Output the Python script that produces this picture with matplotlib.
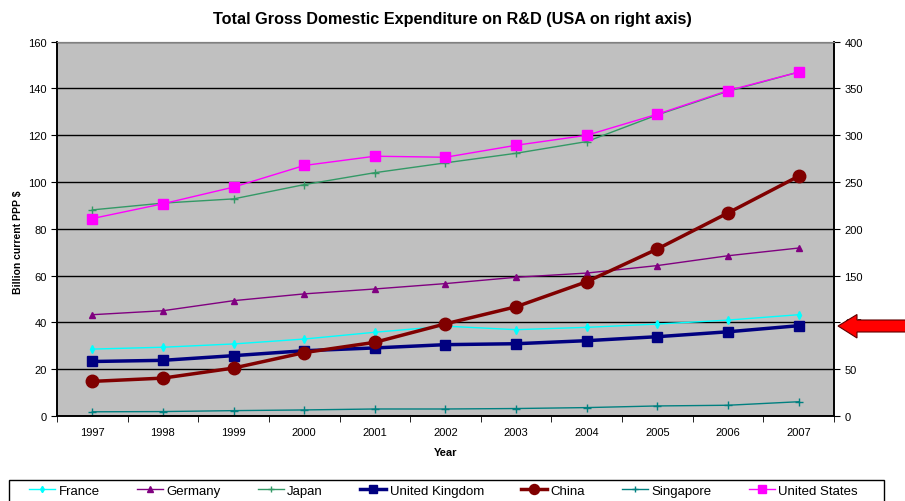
import matplotlib
matplotlib.use("Agg")
import matplotlib.pyplot as plt
from matplotlib.patches import Polygon, Rectangle

plt.rcParams["font.family"] = ["Liberation Sans", "DejaVu Sans"]

years = ["1997", "1998", "1999", "2000", "2001", "2002", "2003", "2004", "2005", "2006", "2007"]

# billion current PPP $ (left axis)
france = [28.6, 29.4, 30.8, 32.9, 35.8, 38.4, 36.9, 37.9, 39.3, 41.0, 43.3]
germany = [43.3, 45.0, 49.3, 52.2, 54.3, 56.6, 59.3, 61.1, 64.3, 68.5, 71.8]
japan = [88.1, 91.0, 92.8, 98.9, 104.0, 108.2, 112.3, 117.3, 128.7, 138.8, 147.0]
uk = [23.3, 23.8, 25.8, 27.9, 29.1, 30.5, 30.9, 32.2, 33.9, 36.0, 38.6]
china = [14.8, 16.2, 20.5, 27.1, 31.5, 39.4, 46.7, 57.4, 71.4, 86.8, 102.5]
singapore = [1.8, 1.9, 2.3, 2.6, 3.0, 3.0, 3.2, 3.6, 4.3, 4.6, 6.1]
# right axis
usa = [211.0, 226.8, 244.6, 267.7, 277.6, 276.5, 289.3, 300.0, 322.5, 347.7, 367.5]

x = list(range(len(years)))

fig = plt.figure(figsize=(9.05, 5.02), dpi=100)
ax = fig.add_axes([0.063, 0.1693, 0.8585, 0.7457])
ax.set_facecolor("#C0C0C0")
ax2 = ax.twinx()

ax.set_ylim(0, 160)
ax.set_yticks(range(0, 161, 20))
ax2.set_ylim(0, 400)
ax2.set_yticks(range(0, 401, 50))
ax.set_xlim(-0.5, len(years) - 0.5)
ax.yaxis.grid(True, color="black", linewidth=1.0)
ax.set_axisbelow(True)

ax.set_xticks(x)
ax.set_xticklabels(years)
ax.set_xticks([i - 0.5 for i in range(len(years) + 1)], minor=True)
ax.tick_params(axis="x", which="major", length=0, pad=8, labelsize=8)
ax.tick_params(axis="x", which="minor", length=4, direction="out", color="black")
ax.tick_params(axis="y", length=4, labelsize=8, color="black")
ax2.tick_params(axis="y", length=4, labelsize=8, color="black")

for a in (ax, ax2):
    a.spines["top"].set_color("#808080")
    for side in ("left", "right", "bottom"):
        a.spines[side].set_color("black")
        a.spines[side].set_linewidth(1.2)

ax.plot(x, france, color="#00FFFF", lw=1, marker="d", ms=4, label="France")
ax.plot(x, germany, color="#800080", lw=1, marker="^", ms=5, label="Germany")
ax.plot(x, japan, color="#339966", lw=1, marker="+", ms=6, label="Japan")
ax.plot(x, uk, color="#000080", lw=2.5, marker="s", ms=7, label="United Kingdom")
ax.plot(x, china, color="#800000", lw=2.5, marker="o", ms=9, label="China")
ax.plot(x, singapore, color="#008080", lw=1, marker="+", ms=6, label="Singapore")
ax2.plot(x, usa, color="#FF00FF", lw=1, marker="s", ms=7, label="United States")

fig.suptitle("Total Gross Domestic Expenditure on R&D (USA on right axis)",
             x=0.5, y=0.977, fontsize=11.7, fontweight="bold")
ax.set_xlabel("Year", fontsize=8, fontweight="bold", labelpad=7)
ax.set_ylabel("Billion current PPP $", fontsize=7.5, fontweight="bold")
ax.yaxis.set_label_coords(-0.0441, 0.466)

# legend box runs off the bottom edge like in the source image
handles = ax.get_legend_handles_labels()[0] + ax2.get_legend_handles_labels()[0]
labels = [h.get_label() for h in handles]
fig.legend(handles, labels, loc="center left", bbox_to_anchor=(0.032, 1 - 491.7 / 502),
           ncol=7, fontsize=9.5, frameon=False, borderpad=0, borderaxespad=0,
           handlelength=2.0, columnspacing=2.8, handletextpad=0.25, markerscale=0.8)
fig.patches.append(Rectangle((9.3 / 905, -0.01), (884 - 9.3) / 905, 0.01 + 1 - 480.7 / 502,
                             transform=fig.transFigure, fill=False,
                             edgecolor="black", lw=1.0))


def px(xp, yp):
    return (xp / 905, 1 - yp / 502)


arrow_pts = [px(838, 327), px(857, 315.5), px(857, 321), px(906, 321),
             px(906, 333), px(857, 333), px(857, 339)]
fig.patches.append(Polygon(arrow_pts, closed=True, transform=fig.transFigure,
                           facecolor="#FF0000", edgecolor="#600000", lw=0.8))

fig.savefig("out.png", dpi=100)
